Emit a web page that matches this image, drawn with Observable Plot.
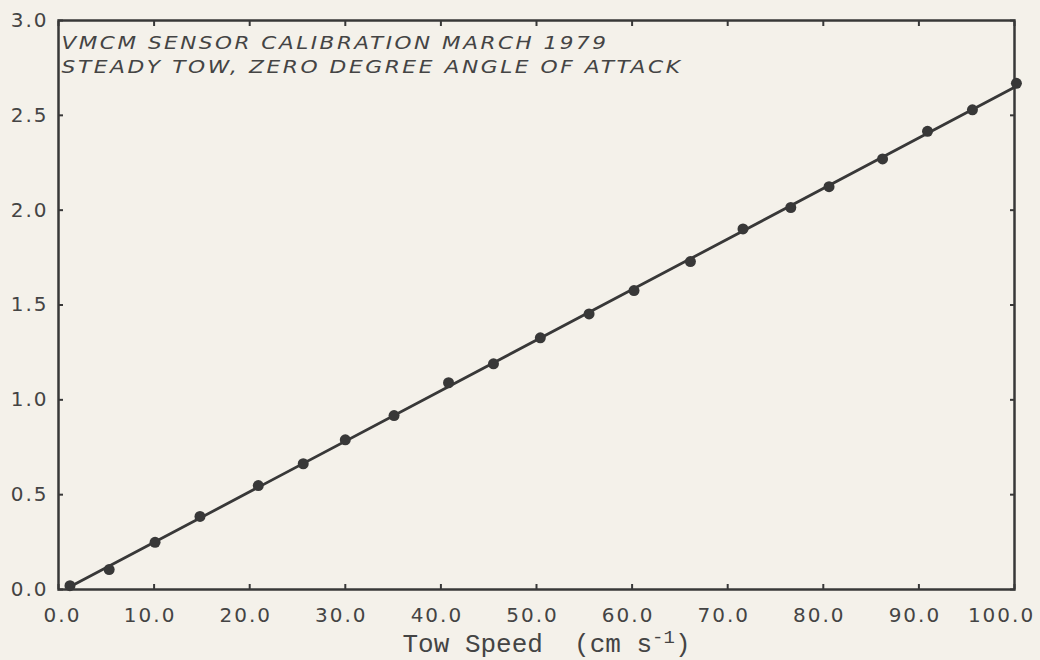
<!DOCTYPE html>
<html>
<head>
<meta charset="utf-8">
<script src="https://cdn.jsdelivr.net/npm/d3@7"></script>
<script src="https://cdn.jsdelivr.net/npm/@observablehq/plot@0.6"></script>
<style>
  html, body { margin: 0; padding: 0; background: #f4f1ea; }
  #chart { width: 1040px; height: 660px; }
</style>
</head>
<body>
<div id="chart"></div>
<script>
// ---- data ----
const towSpeed = [1.2, 5.3, 10.1, 14.8, 20.9, 25.6, 30.0, 35.1, 40.8, 45.5, 50.4,
                  55.5, 60.2, 66.1, 71.6, 76.6, 80.6, 86.2, 90.9, 95.6, 100.2];
const sensorOutput = [0.02, 0.105, 0.249, 0.385, 0.548, 0.663, 0.789, 0.917, 1.090, 1.190, 1.327,
                      1.453, 1.576, 1.729, 1.901, 2.014, 2.124, 2.270, 2.416, 2.529, 2.669];
const xTicks = [0, 10, 20, 30, 40, 50, 60, 70, 80, 90, 100];
const yTicks = [0, 0.5, 1.0, 1.5, 2.0, 2.5, 3.0];
const titleLines = ["VMCM SENSOR CALIBRATION MARCH 1979", "STEADY TOW, ZERO DEGREE ANGLE OF ATTACK"];
const xLabelMain = "Tow Speed\u00a0\u00a0(cm s";
const xLabelSup = "-1";
const xLabelEnd = ")";

const data = towSpeed.map((x, i) => ({x, y: sensorOutput[i]}));

// ---- styles ----
const ink = "#383838";
const textInk = "#444444";
const tickFont = "DejaVu Sans";
const titleWidths = [547, 621];
const xLabelNudge = {"0.0": 8, "100.0": -9};

const chart = Plot.plot({
  width: 1040,
  height: 660,
  marginLeft: 58,
  marginRight: 26,
  marginTop: 20,
  marginBottom: 71,
  style: {background: "#f4f1ea", color: textInk, fontFamily: tickFont, fontSize: "20px", overflow: "visible"},
  x: {domain: [0, 100]},
  y: {domain: [0, 3]},
  marks: [
    // inward tick marks on all four sides
    Plot.axisX(xTicks, {anchor: "bottom", tickSize: -5, strokeWidth: 2, stroke: ink, tickFormat: () => "", label: null}),
    Plot.axisX(xTicks, {anchor: "top", tickSize: -5, strokeWidth: 2, stroke: ink, tickFormat: () => "", label: null}),
    Plot.axisY(yTicks, {anchor: "left", tickSize: -5, strokeWidth: 2, stroke: ink, tickFormat: () => "", label: null}),
    Plot.axisY(yTicks, {anchor: "right", tickSize: -5, strokeWidth: 2, stroke: ink, tickFormat: () => "", label: null}),
    // tick labels
    Plot.axisX(xTicks, {anchor: "bottom", tickSize: 0, tickPadding: 18, dx: -4,
      fontFamily: tickFont, fontSize: 20, tickFormat: d => d.toFixed(1), label: null}),
    Plot.axisY(yTicks, {anchor: "left", tickSize: 0, tickPadding: 10,
      fontFamily: tickFont, fontSize: 20, tickFormat: d => d.toFixed(1), label: null}),
    Plot.frame({stroke: ink, strokeWidth: 2.5}),
    Plot.linearRegressionY(data, {x: "x", y: "y", ci: 0, stroke: ink, strokeWidth: 2.8}),
    Plot.dot(data, {x: "x", y: "y", r: 5.5, fill: ink, stroke: null}),
    ...titleLines.map((t, i) => Plot.text([t], {
      text: d => d, frameAnchor: "top-left", textAnchor: "start", lineAnchor: "middle",
      dx: 3, dy: 23 + i * 24.5, fontSize: 17, fontStyle: "italic", fill: textInk,
      fontFamily: "DejaVu Sans"
    })),
    Plot.text([xLabelMain], {
      text: d => d, frameAnchor: "bottom", textAnchor: "middle", lineAnchor: "middle",
      dx: 10, dy: 54, fontSize: 26, fill: textInk,
      fontFamily: "Liberation Mono, DejaVu Sans Mono, monospace"
    })
  ]
});

document.getElementById("chart").appendChild(chart);

const texts = d3.select(chart).selectAll("text");

// wide lettering for tick labels
texts.filter(function() { return /^\d+\.\d$/.test(this.textContent); })
  .style("letter-spacing", "2px")
  .each(function() {
    const n = xLabelNudge[this.textContent];
    const isX = this.closest('[aria-label="x-axis tick label"]');
    if (n !== undefined && isX) this.setAttribute("dx", n);
  });

// stretch title lines to the reference's wide lettering
texts.filter(function() { return titleLines.includes(this.textContent); })
  .style("letter-spacing", "2px")
  .each(function() {
    const i = titleLines.indexOf(this.textContent);
    this.setAttribute("textLength", titleWidths[i]);
    this.setAttribute("lengthAdjust", "spacingAndGlyphs");
  });

// add the superscript to the axis label
const lab = texts.filter(function() { return this.textContent === xLabelMain; });
lab.append("tspan").attr("dy", -9).attr("font-size", 19).text(xLabelSup);
lab.append("tspan").attr("dy", 9).text(xLabelEnd);
</script>
</body>
</html>
